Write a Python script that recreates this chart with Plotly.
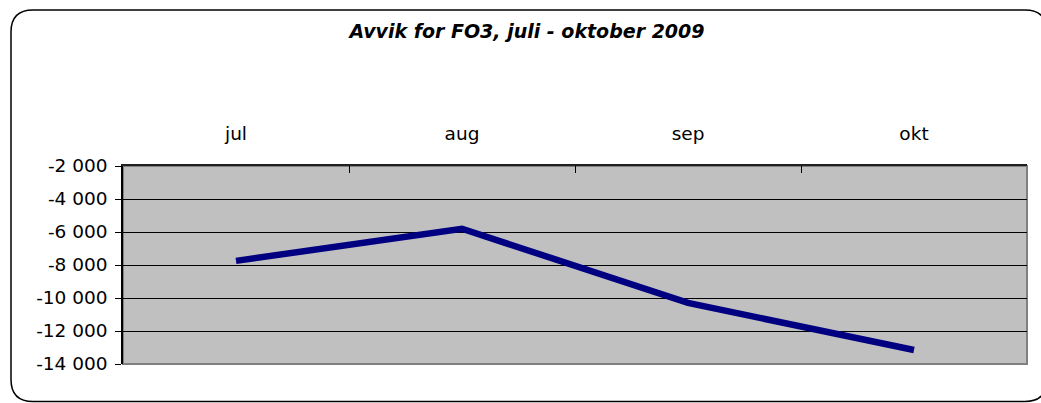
import plotly.graph_objects as go

# Data
months = ["jul", "aug", "sep", "okt"]
avvik = [-7750, -5800, -10300, -13150]
y_ticks = [-2000, -4000, -6000, -8000, -10000, -12000, -14000]
y_ticktext = [f"{v:,}".replace(",", " ") for v in y_ticks]
title_text = "Avvik for FO3, juli - oktober 2009"

W, H = 1041, 403
L, R, T, B = 123, 14, 166, 39
PW, PH = W - L - R, H - T - B


def px(x):
    return (x - L) / PW


def py(y):
    return (H - B - y) / PH


fig = go.Figure()
fig.add_trace(go.Scatter(
    x=months, y=avvik, mode="lines",
    line=dict(color="#000080", width=6.5),
    hoverinfo="skip", showlegend=False,
))

# Rounded outer frame (pixel positions converted to paper coords)
x0, x1, y0, y1, r = 11, 1047, 10, 401.5, 22
path = (
    f"M {px(x0 + r)},{py(y0)} L {px(x1 - r)},{py(y0)} "
    f"Q {px(x1)},{py(y0)} {px(x1)},{py(y0 + r)} "
    f"L {px(x1)},{py(y1 - r)} Q {px(x1)},{py(y1)} {px(x1 - r)},{py(y1)} "
    f"L {px(x0 + r)},{py(y1)} Q {px(x0)},{py(y1)} {px(x0)},{py(y1 - r)} "
    f"L {px(x0)},{py(y0 + r)} Q {px(x0)},{py(y0)} {px(x0 + r)},{py(y0)} Z"
)

fig.update_layout(
    width=W, height=H,
    margin=dict(l=L, r=R, t=T, b=B, pad=0),
    paper_bgcolor="white",
    plot_bgcolor="#C0C0C0",
    font=dict(family="DejaVu Sans", size=18.5, color="black"),
    title=dict(
        text=f"<b><i>{title_text}</i></b>",
        x=527 / W, xanchor="center",
        y=1 - 31 / H, yanchor="middle",
        font=dict(family="DejaVu Sans", size=19, color="black"),
    ),
    shapes=[
        dict(type="path", path=path, xref="paper", yref="paper",
             line=dict(color="black", width=1.5), layer="below"),
        dict(type="rect", xref="paper", yref="paper", x0=0, x1=1, y0=0, y1=1,
             line=dict(color="#808080", width=2), layer="below"),
    ],
    xaxis=dict(
        side="top", type="category",
        range=[-0.5, len(months) - 0.5],
        showgrid=False, zeroline=False,
        showline=True, linecolor="#202020", linewidth=2,
        ticks="inside", tickson="boundaries", ticklen=7,
        tickcolor="black", tickwidth=1,
        ticklabelstandoff=17,
        tickfont=dict(family="DejaVu Sans", size=18.5),
    ),
    yaxis=dict(
        range=[-14000, -2000],
        tickvals=y_ticks, ticktext=y_ticktext,
        showgrid=True, gridcolor="black", gridwidth=1,
        zeroline=False,
        showline=True, linecolor="black", linewidth=1.5,
        ticks="outside", ticklen=6, tickcolor="black", tickwidth=1,
        ticklabelstandoff=4,
        tickfont=dict(family="DejaVu Sans", size=18.5),
    ),
)

fig.write_html("out.html", config={"displayModeBar": False},
               post_script="document.body.style.margin='0';")
